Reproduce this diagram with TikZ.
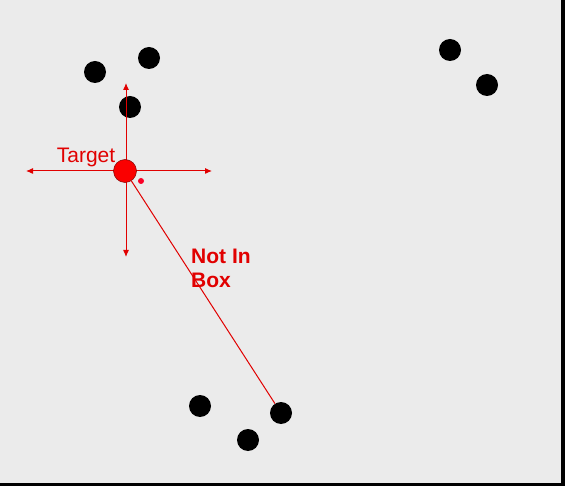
\documentclass[tikz,border=0pt]{standalone}
\usepackage{fontspec}
\setmainfont{Liberation Sans}
\usetikzlibrary{arrows.meta}
\definecolor{bg}{RGB}{235,235,235}
\definecolor{tred}{RGB}{225,0,0}
\definecolor{bred}{RGB}{250,0,0}
\tikzset{
  dot/.style={circle,fill=black,minimum size=22pt,inner sep=0pt},
  axis/.style={tred,line width=1pt,-{Latex[length=7pt,width=6pt]}},
  lbl/.style={text=tred,inner sep=0pt,font=\fontsize{21}{24}\selectfont}
}
\begin{document}
\begin{tikzpicture}[x=1pt,y=-1pt]
\useasboundingbox (0,0) rectangle (565,486);
\fill[black] (0,0) rectangle (565,486);
\fill[bg] (0,0) rectangle (561,483);
\node[dot] (d1) at (95,72) {};
\node[dot] (d2) at (149,58) {};
\node[dot] (d3) at (130,107) {};
\node[dot] (d4) at (450,50) {};
\node[dot] (d5) at (487,85) {};
\node[dot] (d6) at (200,406) {};
\node[dot] (d7) at (281,413) {};
\node[dot] (d8) at (248,440) {};
\coordinate (L) at (26,171);
\coordinate (R) at (212,171);
\coordinate (U) at (126,83);
\coordinate (D) at (126,257);
\draw[axis] (125,171) -- (L);
\draw[axis] (125,171) -- (R);
\draw[axis] (126,171) -- (U);
\draw[axis] (126,171) -- (D);
\node[circle,fill=bred,draw=black!50!red,line width=0.5pt,minimum size=23pt,inner sep=0pt] (t) at (125,171) {};
\node[circle,fill=bred!85!magenta,minimum size=6pt,inner sep=0pt] (s) at (141,181) {};
\draw[tred,line width=1pt] (t) -- (d7);
\node[lbl] (tl) at (86,157) {Target};
\node[lbl,font=\fontsize{21}{24}\selectfont\bfseries,align=left,anchor=north west] (nb) at (191,249) {Not In\\Box};
\end{tikzpicture}
\end{document}
